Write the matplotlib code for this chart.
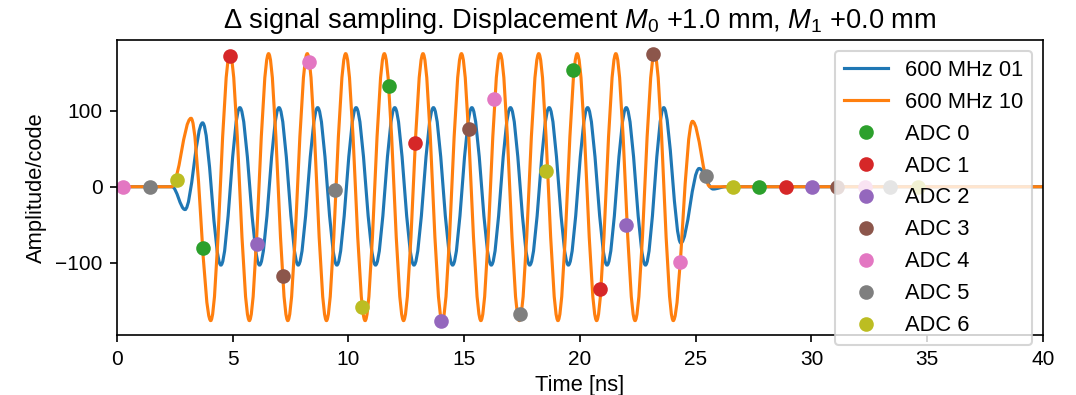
import matplotlib
matplotlib.use("Agg")
import matplotlib.pyplot as plt
from matplotlib.path import Path
from matplotlib.patches import PathPatch
from matplotlib.lines import Line2D

plt.rcParams['font.family'] = ['Liberation Sans', 'DejaVu Sans']
plt.rcParams['mathtext.fontset'] = 'custom'
plt.rcParams['mathtext.rm'] = 'Liberation Sans'
plt.rcParams['mathtext.it'] = 'Liberation Sans:italic'

# extrema of the two analog signals (time ns, amplitude code)
t_01 = [2.38, 2.94, 3.70, 4.49, 5.31, 6.16, 7.00, 7.83, 8.67, 9.50, 10.33,
        11.17, 12.00, 12.83, 13.67, 14.50, 15.33, 16.17, 17.00, 17.83, 18.67,
        19.50, 20.33, 21.17, 22.00, 22.83, 23.62, 24.36, 25.15, 25.75, 26.30]
y_01 = [0, -30, 84, -103, 104, -103, 104, -103, 104, -103, 104,
        -103, 104, -103, 104, -103, 104, -103, 104, -103, 104,
        -103, 104, -103, 104, -103, 104, -74, 24, -3, 0]

t_10 = [2.36, 3.20, 4.05, 4.88, 5.72, 6.55, 7.38, 8.22, 9.05, 9.88, 10.72,
        11.55, 12.38, 13.22, 14.05, 14.88, 15.72, 16.55, 17.38, 18.22, 19.05,
        19.88, 20.72, 21.55, 22.38, 23.22, 24.03, 24.86, 25.62]
y_10 = [0, 90, -176, 175, -176, 175, -176, 175, -176, 175, -176,
        175, -176, 175, -176, 175, -176, 175, -176, 175, -176,
        175, -176, 175, -176, 175, -176, 86, 0]

# ADC samples (time ns, code)
adc_t = [
    [3.71, 11.75, 19.70, 27.73],
    [4.88, 12.87, 20.86, 28.90],
    [6.05, 14.00, 21.99, 30.02],
    [7.17, 15.20, 23.15, 31.10],
    [0.26, 8.29, 16.29, 24.32, 32.30],
    [1.43, 9.42, 17.40, 25.44, 33.40],
    [2.59, 10.58, 18.53, 26.60, 34.60],
]
adc_v = [
    [-80, 133, 154, 0],
    [172, 57, -134, 0],
    [-75, -176, -50, 0],
    [-117, 76, 174, 0],
    [0, 164, 116, -99, 0],
    [0, -4, -168, 14, 0],
    [9, -158, 21, 0, 0],
]

t_min, t_max = 0, 40


def signal_path(t, y):
    # flat baseline, then cosine-like half periods between extrema (cubic Bezier)
    k = 1 - 2 / 3.141592653589793
    verts = [(t_min, 0), (t[0], y[0])]
    codes = [Path.MOVETO, Path.LINETO]
    for i in range(len(t) - 1):
        dt = t[i + 1] - t[i]
        verts += [(t[i] + k * dt, y[i]), (t[i + 1] - k * dt, y[i + 1]), (t[i + 1], y[i + 1])]
        codes += [Path.CURVE4] * 3
    verts.append((t_max, 0))
    codes.append(Path.LINETO)
    return Path(verts, codes)


fig, ax = plt.subplots(figsize=(1076 / 150, 395 / 150), dpi=150)
fig.subplots_adjust(left=0.1087, right=0.9693, top=0.8987, bottom=0.1519)

ax.add_patch(PathPatch(signal_path(t_01, y_01), fill=False, edgecolor='C0', lw=1.5))
ax.add_patch(PathPatch(signal_path(t_10, y_10), fill=False, edgecolor='C1', lw=1.5))

handles = [Line2D([], [], color='C0', lw=1.5, label='600 MHz 01'),
           Line2D([], [], color='C1', lw=1.5, label='600 MHz 10')]
for k in range(len(adc_t)):
    h, = ax.plot(adc_t[k], adc_v[k], 'o', color='C%d' % (k + 2), label='ADC %d' % k)
    handles.append(h)

ax.set_xlim(t_min, t_max)
ax.set_ylim(-195, 193)
ax.set_xlabel('Time [ns]', fontsize=10.5, labelpad=3)
ax.set_ylabel('Amplitude/code', fontsize=10.5)
ax.set_title('Δ signal sampling. Displacement $M_0$ +1.0 mm, $M_1$ +0.0 mm', fontsize=13.1)
ax.legend(handles=handles, loc='upper right', fontsize=10.5)

plt.savefig('out.png', dpi=150)
